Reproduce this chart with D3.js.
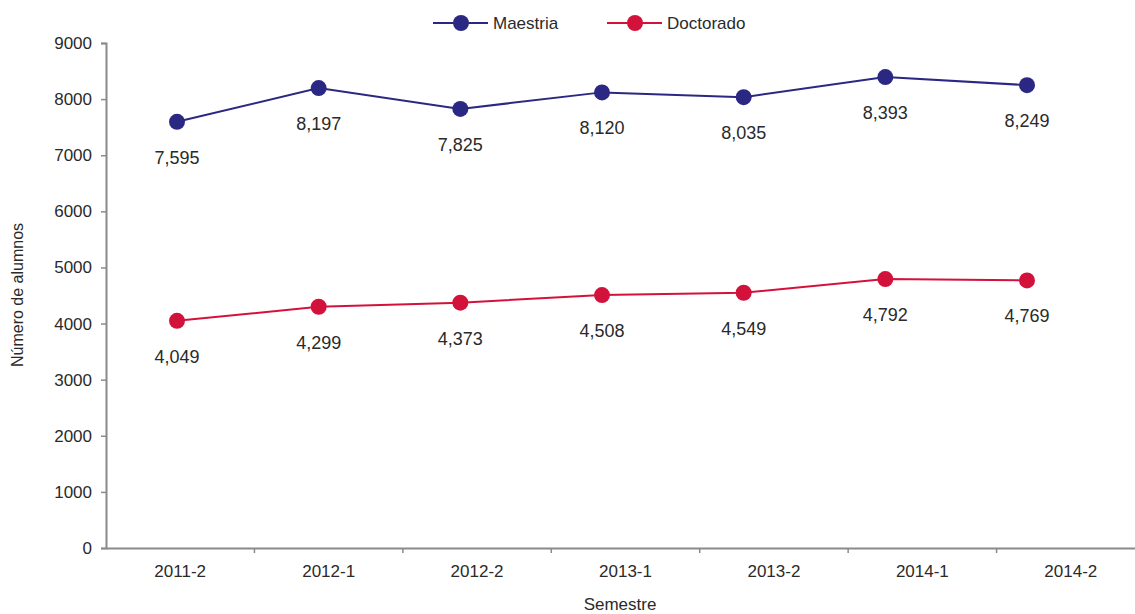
<!DOCTYPE html>
<html>
<head>
<meta charset="utf-8">
<script src="https://cdn.jsdelivr.net/npm/d3@7"></script>
<style>
  body { margin: 0; background: #fff; }
  text { font-family: "Liberation Sans", Arial, sans-serif; fill: #2a2a2a; }
</style>
</head>
<body>
<svg id="chart" width="1135" height="614"></svg>
<script>
// semestres and enrolment counts
const semestres = ['2011-2', '2012-1', '2012-2', '2013-1', '2013-2', '2014-1', '2014-2'];
const maestria = [7595, 8197, 7825, 8120, 8035, 8393, 8249];
const doctorado = [4049, 4299, 4373, 4508, 4549, 4792, 4769];
const yTicks = [0, 1000, 2000, 3000, 4000, 5000, 6000, 7000, 8000, 9000];

const series = [
  { name: 'Maestria', values: maestria, color: '#2a2882' },
  { name: 'Doctorado', values: doctorado, color: '#d3123c' },
];

const svg = d3.select('#chart');
const fmt = d3.format(',');

// axis bands and data points sit on slightly different spacing in the original
const xBand = d3.scaleBand().domain(semestres).range([106, 1145]);
const xPt = d3.scalePoint().domain(semestres).range([177, 1027]);
const y = d3.scaleLinear().domain([0, 9000]).range([548, 43]);

// y axis
const gy = svg.append('g').attr('transform', 'translate(106,0)')
  .call(d3.axisLeft(y).tickValues(yTicks).tickSize(5).tickPadding(9).tickFormat(d3.format('d')));
gy.select('.domain').attr('stroke', '#8a8a8a').attr('stroke-width', 2);
gy.selectAll('.tick line').attr('stroke', '#8a8a8a').attr('stroke-width', 1.5);
gy.selectAll('.tick text').attr('font-size', 17).attr('fill', '#2a2a2a')
  .attr('font-family', '"Liberation Sans", Arial, sans-serif');

// x axis
const gx = svg.append('g').attr('transform', 'translate(0,548)')
  .call(d3.axisBottom(xBand).tickSize(0).tickPadding(17));
gx.select('.domain').attr('stroke', '#8a8a8a').attr('stroke-width', 2);
gx.selectAll('.tick text').attr('font-size', 17).attr('fill', '#2a2a2a')
  .attr('font-family', '"Liberation Sans", Arial, sans-serif');
gx.selectAll('.sep').data(semestres.slice(1)).enter().append('line')
  .attr('class', 'sep')
  .attr('x1', d => xBand(d)).attr('x2', d => xBand(d))
  .attr('y1', 0).attr('y2', 5)
  .attr('stroke', '#8a8a8a').attr('stroke-width', 1.5);

// axis titles
svg.append('text').attr('x', 620).attr('y', 610).attr('text-anchor', 'middle')
  .attr('font-size', 17).text('Semestre');
svg.append('text').attr('transform', 'translate(23,295) rotate(-90)')
  .attr('text-anchor', 'middle').attr('font-size', 16).text('Número de alumnos');

// lines, markers, value labels
const line = d3.line().x((d, i) => xPt(semestres[i])).y(d => y(d));
series.forEach(s => {
  svg.append('path').datum(s.values).attr('d', line)
    .attr('fill', 'none').attr('stroke', s.color).attr('stroke-width', 2);
  svg.selectAll(null).data(s.values).enter().append('circle')
    .attr('cx', (d, i) => xPt(semestres[i])).attr('cy', d => y(d))
    .attr('r', 8).attr('fill', s.color);
  svg.selectAll(null).data(s.values).enter().append('text')
    .attr('x', (d, i) => xPt(semestres[i])).attr('y', d => y(d) + 42)
    .attr('text-anchor', 'middle').attr('font-size', 18).text(d => fmt(d));
});

// legend
const legX = [433, 607];
series.forEach((s, i) => {
  const g = svg.append('g').attr('transform', `translate(${legX[i]},23)`);
  g.append('line').attr('x1', 0).attr('x2', 55).attr('stroke', s.color).attr('stroke-width', 2);
  g.append('circle').attr('cx', 28).attr('r', 8).attr('fill', s.color);
  g.append('text').attr('x', 60).attr('y', 6).attr('font-size', 17).text(s.name);
});
</script>
</body>
</html>
